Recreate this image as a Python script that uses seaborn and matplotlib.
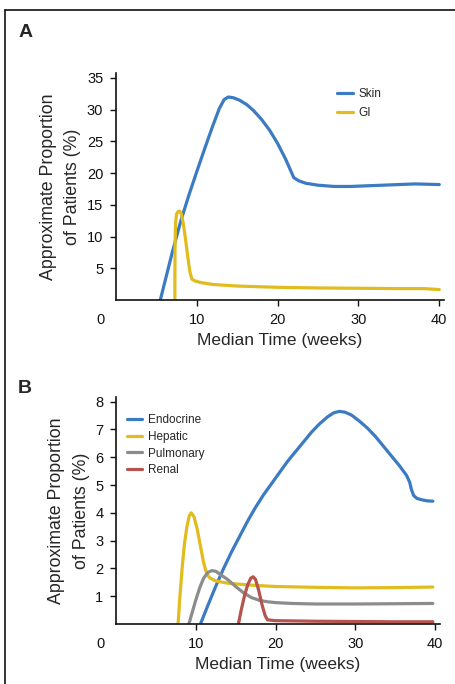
import pandas as pd
import matplotlib.pyplot as plt
import matplotlib.lines as mlines
import seaborn as sns

# Panel A: skin and GI toxicity
skin_x = [5.5, 7.0, 8.0, 9.0, 10.0, 11.0, 12.0, 12.8, 13.4, 13.9, 14.5, 15.3, 16.2, 17.0, 18.0, 19.0, 20.0,
          21.0, 22.0, 22.6, 23.5, 25.0, 27.0, 29.0, 31.0, 33.0, 35.0, 37.0, 40.0]
skin_y = [0.0, 7.6, 12.3, 16.4, 20.2, 23.9, 27.5, 30.2, 31.6, 32.0, 31.9, 31.5, 30.8, 29.9, 28.5, 26.8, 24.7,
          22.2, 19.3, 18.8, 18.4, 18.1, 17.9, 17.9, 18.0, 18.1, 18.2, 18.3, 18.2]
gi_x = [7.3, 7.32, 7.38, 7.5, 7.7, 7.9, 8.1, 8.35, 8.6, 8.9, 9.15, 9.4, 9.8, 10.5, 12.0, 15.0, 20.0, 25.0,
        30.0, 35.0, 38.0, 40.0]
gi_y = [0.0, 8.0, 12.0, 13.5, 13.95, 14.0, 13.6, 12.0, 9.8, 6.8, 4.5, 3.3, 3.0, 2.75, 2.45, 2.2, 2.0, 1.9,
        1.85, 1.8, 1.8, 1.65]

# Panel B: endocrine, hepatic, pulmonary, renal
endo_x = [10.6, 11.5, 12.5, 13.5, 14.5, 15.5, 16.5, 17.5, 18.5, 19.5, 20.5, 21.5, 22.5, 23.5, 24.5, 25.5,
          26.5, 27.3, 28.0, 28.7, 29.5, 30.5, 31.5, 32.5, 33.5, 34.5, 35.5, 36.4, 36.8, 37.0, 37.3, 37.7,
          38.3, 39.0, 39.7]
endo_y = [0.0, 0.65, 1.35, 2.0, 2.6, 3.15, 3.7, 4.2, 4.65, 5.05, 5.45, 5.85, 6.2, 6.55, 6.9, 7.2,
          7.45, 7.6, 7.65, 7.62, 7.52, 7.3, 7.05, 6.75, 6.4, 6.05, 5.7, 5.35, 5.1, 4.85, 4.62, 4.52,
          4.47, 4.43, 4.42]
hep_x = [7.8, 8.0, 8.3, 8.6, 8.9, 9.2, 9.45, 9.8, 10.2, 10.6, 11.0, 11.4, 11.8, 12.5, 14.0, 16.0, 18.0,
         20.0, 25.0, 30.0, 35.0, 39.7]
hep_y = [0.0, 0.9, 2.0, 2.9, 3.5, 3.9, 4.0, 3.85, 3.4, 2.8, 2.2, 1.8, 1.65, 1.55, 1.47, 1.42, 1.38,
         1.35, 1.32, 1.3, 1.31, 1.33]
pulm_x = [9.15, 9.5, 10.0, 10.5, 11.0, 11.5, 12.0, 12.5, 13.0, 14.0, 15.0, 16.0, 17.0, 18.0, 19.0, 20.0,
          22.0, 25.0, 30.0, 35.0, 39.7]
pulm_y = [0.0, 0.35, 0.85, 1.3, 1.65, 1.85, 1.92, 1.9, 1.8, 1.6, 1.35, 1.12, 0.95, 0.85, 0.8, 0.77,
          0.74, 0.72, 0.72, 0.73, 0.74]
renal_x = [15.35, 15.7, 16.1, 16.5, 16.9, 17.2, 17.5, 17.9, 18.3, 18.7, 19.0, 20.0, 25.0, 30.0, 35.0, 39.7]
renal_y = [0.0, 0.5, 1.0, 1.4, 1.65, 1.7, 1.6, 1.2, 0.7, 0.3, 0.15, 0.12, 0.1, 0.09, 0.08, 0.08]

x_ticks = [10, 20, 30, 40]
a_yticks = [5, 10, 15, 20, 25, 30, 35]
b_yticks = [1, 2, 3, 4, 5, 6, 7, 8]

colors = {"Skin": "#3b7bc4", "GI": "#e0bc1e", "Endocrine": "#3b7bc4", "Hepatic": "#e0bc1e",
          "Pulmonary": "#8c8c8c", "Renal": "#b5534e"}


def long_df(series):
    rows = []
    for name, xs, ys in series:
        for i, (x, y) in enumerate(zip(xs, ys)):
            rows.append({"series": name, "idx": i, "week": x, "pct": y})
    return pd.DataFrame(rows)


df_a = long_df([("Skin", skin_x, skin_y), ("GI", gi_x, gi_y)])
df_b = long_df([("Endocrine", endo_x, endo_y), ("Hepatic", hep_x, hep_y),
                ("Pulmonary", pulm_x, pulm_y), ("Renal", renal_x, renal_y)])

sns.set_style("ticks")
plt.rcParams["font.family"] = ["Liberation Sans", "DejaVu Sans"]

fig = plt.figure(figsize=(4.56, 6.84), dpi=100)
ax_a = fig.add_axes([0.254, 0.5614, 0.720, 0.332])
ax_b = fig.add_axes([0.254, 0.0877, 0.711, 0.332])


def style(ax, df, order, ylim, yticks, leg_anchor, spacing):
    sns.lineplot(data=df, x="week", y="pct", hue="series", hue_order=order, palette=colors,
                 units="series", estimator=None, sort=False, linewidth=2.3, ax=ax, legend=False)
    ax.set_xlim(0, 40.6)
    ax.set_ylim(0, ylim)
    ax.set_xticks(x_ticks)
    ax.set_yticks(yticks)
    ax.tick_params(labelsize=10.5, length=4, width=1, pad=5, colors="#111111")
    for s in ["left", "bottom"]:
        ax.spines[s].set_linewidth(1.2)
        ax.spines[s].set_color("#111111")
    sns.despine(ax=ax)
    ax.set_xlabel("Median Time (weeks)", fontsize=12.5, labelpad=5)
    ax.set_ylabel("Approximate Proportion\nof Patients (%)", fontsize=12.8, labelpad=4,
                  linespacing=1.55)
    ax.annotate("0", xy=(0, 0), xycoords=("data", "axes fraction"), xytext=(-11, -9),
                textcoords="offset points", ha="center", va="top", fontsize=10.5, color="#111111")
    handles = [mlines.Line2D([], [], color=colors[n], linewidth=2.3) for n in order]
    ax.legend(handles, order, loc="upper left", bbox_to_anchor=leg_anchor, frameon=False,
              fontsize=8.5, handlelength=1.3, handletextpad=0.5, labelspacing=spacing,
              borderaxespad=0)


style(ax_a, df_a, ["Skin", "GI"], 35.8, a_yticks, (0.66, 0.955), 0.6)
style(ax_b, df_b, ["Endocrine", "Hepatic", "Pulmonary", "Renal"], 8.17, b_yticks, (0.02, 0.945), 0.4)

fig.text(0.04, 0.952, "A", fontsize=14, fontweight="bold", va="center")
fig.text(0.04, 0.432, "B", fontsize=14, fontweight="bold", va="center")

# partial frame around the figure (top and left edges)
fig.add_artist(mlines.Line2D([0.011, 1.0], [0.986, 0.986], color="#111111", linewidth=1.2))
fig.add_artist(mlines.Line2D([0.011, 0.011], [0.0, 0.986], color="#111111", linewidth=1.2))

fig.savefig("out.png", dpi=100)
